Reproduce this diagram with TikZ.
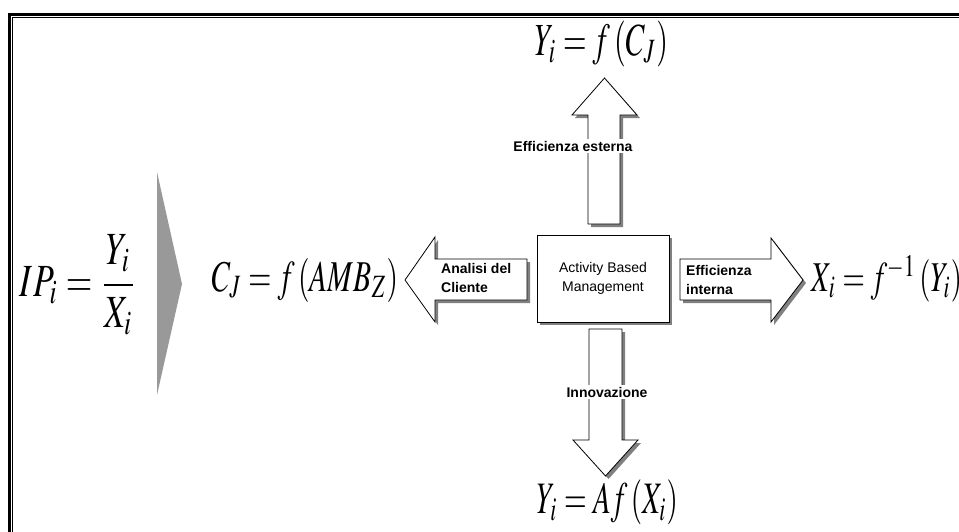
\documentclass[tikz,border=0pt]{standalone}
\usepackage{mathptmx}
\usepackage[no-math]{fontspec}
\newfontfamily\arialfont{Liberation Sans}
\usepackage{graphicx}
\usetikzlibrary{shadows}

\definecolor{shadowgray}{RGB}{128,128,128}
\definecolor{chevrongray}{RGB}{153,153,153}

\tikzset{
  blockshape/.style={draw=black, line width=0.8pt, fill=white, line join=miter,
    drop shadow={shadow xshift=3pt, shadow yshift=-3pt, fill=shadowgray, opacity=1}},
  formula/.style={inner sep=0pt, outer sep=0pt},
  boldlabel/.style={font=\arialfont\bfseries\fontsize{14}{19}\selectfont, inner sep=0pt, align=left},
  cutlabel/.style={font=\arialfont\bfseries\fontsize{14}{19}\selectfont, fill=white, inner sep=2pt},
  centertext/.style={font=\arialfont\fontsize{14}{19}\selectfont, align=center, inner sep=0pt}
}

\begin{document}
\begin{tikzpicture}[x=1pt, y=-1pt]
  \useasboundingbox (0,0) rectangle (959,531);
  \clip (0,0) rectangle (959,531);

  % double frame line along the top and left
  \draw[line width=3pt] (9,545) -- (9,14.5) -- (975,14.5);
  \draw[line width=0.8pt] (12.5,545) -- (12.5,17.5) -- (975,17.5);

  % grey chevron between the ratio and the diagram
  \fill[chevrongray] (157,172) -- (182,284) -- (157,395) -- cycle;

  % central box
  \node[blockshape, minimum width=132pt, minimum height=87pt, inner sep=0pt]
    (abm) at (603,278.5) {};
  \node[centertext] (abmtext) at (abm.center) {Activity Based\\Management};

  % block arrows leaving the box
  \draw[blockshape] (527,259) -- (435,259) -- (435,237) -- (405,280)
    -- (435,322) -- (435,300) -- (527,300) -- cycle;
  \draw[blockshape] (680,259) -- (771,259) -- (771,238) -- (803,280)
    -- (771,322) -- (771,300) -- (680,300) -- cycle;
  \draw[blockshape] (588,224) -- (588,115) -- (572,115) -- (604.5,78)
    -- (637,115) -- (620,115) -- (620,224) -- cycle;
  \draw[blockshape] (589,329) -- (589,440) -- (573,440) -- (605.5,476)
    -- (638,440) -- (622,440) -- (622,329) -- cycle;

  % arrow labels
  \node[boldlabel, anchor=west] (lclient) at (441,278) {Analisi del\\Cliente};
  \node[boldlabel, anchor=west] (linterna) at (686,280) {Efficienza\\interna};
  \node[cutlabel] (lesterna) at (573,146) {Efficienza esterna};
  \node[cutlabel] (linnov) at (607,392) {Innovazione};

  % formulas
  \node[formula] (ratio) at (78.5,285)
    {\resizebox*{117pt}{100pt}{$\displaystyle IP_i=\frac{Y_i}{X_i}$}};
  \node[formula] (fclient) at (305,280)
    {\resizebox*{186pt}{44pt}{$C_J=f\left(AMB_Z\right)$}};
  \node[formula] (fext) at (601.5,44)
    {\resizebox*{133pt}{46pt}{$Y_i=f\left(C_J\right)$}};
  \node[formula] (fint) at (887,278.5)
    {\resizebox*{150pt}{47pt}{$X_i=f^{-1}\left(Y_i\right)$}};
  \node[formula] (finnov) at (607.5,502.5)
    {\resizebox*{141pt}{45pt}{$Y_i=Af\left(X_i\right)$}};
\end{tikzpicture}
\end{document}
